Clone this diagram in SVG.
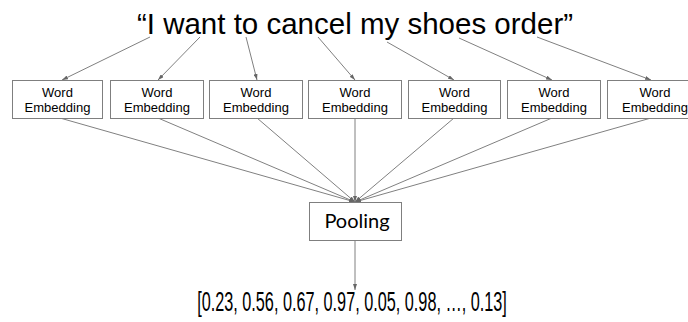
<svg xmlns="http://www.w3.org/2000/svg" width="688" height="322" viewBox="0 0 688 322">
<style>
.box{fill:#fff;stroke:#7f7f7f;stroke-width:1}
.wt{font-family:"Liberation Sans",Arial,sans-serif;font-size:13px;fill:#000;text-anchor:middle}
.ln{stroke:#808080;stroke-width:1;fill:none;marker-end:url(#ah)}
</style>
<defs>
<marker id="ah" viewBox="0 0 6 4" refX="6" refY="2" markerWidth="6" markerHeight="4" markerUnits="userSpaceOnUse" orient="auto">
<path d="M0,0 L6,2 L0,4 z" fill="#666"/>
</marker>
</defs>
<rect width="688" height="322" fill="#fff"/>
<text x="355" y="34" font-family="Liberation Sans,Arial,sans-serif" font-size="29.5" text-anchor="middle">“I want to cancel my shoes order”</text>
<g id="connectors">
<line class="ln" x1="150" y1="37" x2="62" y2="80"/>
<line class="ln" x1="200" y1="37" x2="158" y2="80"/>
<line class="ln" x1="246" y1="37" x2="257" y2="80"/>
<line class="ln" x1="318" y1="37" x2="355" y2="80"/>
<line class="ln" x1="387" y1="42" x2="454" y2="80"/>
<line class="ln" x1="459" y1="38" x2="552" y2="80"/>
<line class="ln" x1="537" y1="37" x2="651" y2="80"/>
<line class="ln" x1="60" y1="118" x2="355" y2="202"/>
<line class="ln" x1="158" y1="118" x2="355" y2="202"/>
<line class="ln" x1="257" y1="118" x2="355" y2="202"/>
<line class="ln" x1="355" y1="118" x2="355" y2="202"/>
<line class="ln" x1="454" y1="118" x2="355" y2="202"/>
<line class="ln" x1="552" y1="118" x2="355" y2="202"/>
<line class="ln" x1="651" y1="118" x2="355" y2="202"/>
<line class="ln" x1="355" y1="240" x2="355" y2="290"/>
</g>
<g id="we1"><rect class="box" x="12.5" y="80.5" width="90" height="38"/><text class="wt" x="57.5" y="97">Word</text><text class="wt" x="57.5" y="112">Embedding</text></g>
<g id="we2"><rect class="box" x="110.5" y="80.5" width="93" height="38"/><text class="wt" x="157" y="97">Word</text><text class="wt" x="157" y="112">Embedding</text></g>
<g id="we3"><rect class="box" x="209.5" y="80.5" width="93" height="38"/><text class="wt" x="256" y="97">Word</text><text class="wt" x="256" y="112">Embedding</text></g>
<g id="we4"><rect class="box" x="308.5" y="80.5" width="93" height="38"/><text class="wt" x="355" y="97">Word</text><text class="wt" x="355" y="112">Embedding</text></g>
<g id="we5"><rect class="box" x="408.5" y="80.5" width="92" height="38"/><text class="wt" x="454.5" y="97">Word</text><text class="wt" x="454.5" y="112">Embedding</text></g>
<g id="we6"><rect class="box" x="507.5" y="80.5" width="93" height="38"/><text class="wt" x="554" y="97">Word</text><text class="wt" x="554" y="112">Embedding</text></g>
<g id="we7"><rect class="box" x="607.5" y="80.5" width="93" height="38"/><text class="wt" x="655" y="97">Word</text><text class="wt" x="655" y="112">Embedding</text></g>
<g id="pooling"><rect class="box" x="309.5" y="202.5" width="92" height="38"/><text x="357" y="228" font-family="Lato,'Open Sans',sans-serif" font-size="20" text-anchor="middle">Pooling</text></g>
<text transform="scale(0.602,1)" x="584.7" y="311" font-family="Liberation Sans,Arial,sans-serif" font-size="27" text-anchor="middle">[0.23, 0.56, 0.67, 0.97, 0.05, 0.98, …, 0.13]</text>
</svg>
